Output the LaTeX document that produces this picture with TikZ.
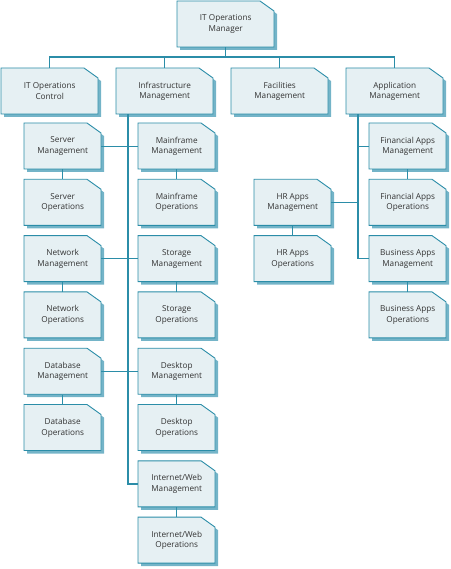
\documentclass[tikz,border=0pt]{standalone}
\usepackage{fontspec}
\setmainfont{Open Sans}
\definecolor{edgec}{HTML}{2B8DA8}
\definecolor{fillc}{HTML}{E6F0F3}
\definecolor{shadc}{HTML}{74B4C8}
\definecolor{textc}{HTML}{333333}
\tikzset{
  boxline/.style={draw=edgec, fill=fillc, line width=0.9pt},
  boxshadow/.style={fill=shadc},
  txt/.style={inner sep=0pt, align=center, text=textc, font=\fontsize{8.2}{10.5}\selectfont},
  conn/.style={draw=edgec, line width=1.1pt},
}
\newcommand\obox[5]{%
  \fill[boxshadow] ({#2+3},{#3+3}) -- ({#2+#4-14+3},{#3+3}) -- ({#2+#4+3},{#3+10+3}) -- ({#2+#4+3},{#3+46+3}) -- ({#2+3},{#3+46+3}) -- cycle;
  \path[boxline] (#2,#3) -- ({#2+#4-14},#3) -- ({#2+#4},{#3+10}) -- ({#2+#4},{#3+46}) -- (#2,{#3+46}) -- cycle;
  \node[txt, minimum width=#4pt, minimum height=46pt, anchor=north west] (#1) at (#2,#3) {#5};
}
\begin{document}
\begin{tikzpicture}[x=1pt,y=-1pt]
\useasboundingbox (0,0) rectangle (450,569);
\obox{mgr}{177}{1}{97}{IT Operations\\Manager}
\obox{ctl}{1}{68}{97}{IT Operations\\Control}
\obox{inf}{116}{68}{97}{Infrastructure\\Management}
\obox{fac}{231}{68}{97}{Facilities\\Management}
\obox{app}{346}{68}{97}{Application\\Management}
% left column
\obox{sm}{24}{123}{77}{Server\\Management}
\obox{so}{24}{179.3}{77}{Server\\Operations}
\obox{nm}{24}{235.6}{77}{Network\\Management}
\obox{no}{24}{291.9}{77}{Network\\Operations}
\obox{dm}{24}{348.2}{77}{Database\\Management}
\obox{do}{24}{404.5}{77}{Database\\Operations}
% middle column
\obox{mm}{138}{123}{77}{Mainframe\\Management}
\obox{mo}{138}{179.3}{77}{Mainframe\\Operations}
\obox{stm}{138}{235.6}{77}{Storage\\Management}
\obox{sto}{138}{291.9}{77}{Storage\\Operations}
\obox{dkm}{138}{348.2}{77}{Desktop\\Management}
\obox{dko}{138}{404.5}{77}{Desktop\\Operations}
\obox{iwm}{138}{460.8}{77}{Internet/Web\\Management}
\obox{iwo}{138}{517.1}{77}{Internet/Web\\Operations}
% application side
\obox{hrm}{254}{179.3}{77}{HR Apps\\Management}
\obox{hro}{254}{235.6}{77}{HR Apps\\Operations}
\obox{fam}{369}{123}{77}{Financial Apps\\Management}
\obox{fao}{369}{179.3}{77}{Financial Apps\\Operations}
\obox{bam}{369}{235.6}{77}{Business Apps\\Management}
\obox{bao}{369}{291.9}{77}{Business Apps\\Operations}
% connectors
\coordinate (bus) at (0,57);
\coordinate (inftrunk) at ([xshift=12pt]inf.south west);
\coordinate (apptrunk) at ([xshift=12pt]app.south west);
\draw[conn] (mgr.south) -- (mgr.south |- bus);
\draw[conn] (ctl.north) -- (ctl.north |- bus) -- (app.north |- bus) -- (app.north);
\draw[conn] (inf.north) -- (inf.north |- bus);
\draw[conn] (fac.north) -- (fac.north |- bus);
\draw[conn] (inftrunk) |- (iwm.west);
\draw[conn] (apptrunk) |- (bam.west);
\draw[conn] (sm.east) -- (mm.west);
\draw[conn] (nm.east) -- (stm.west);
\draw[conn] (dm.east) -- (dkm.west);
\draw[conn] (fam.west) -- (fam.west -| apptrunk);
\draw[conn] (hrm.east) -- (hrm.east -| apptrunk);
\draw[conn] (sm.south) -- (so.north);
\draw[conn] (nm.south) -- (no.north);
\draw[conn] (dm.south) -- (do.north);
\draw[conn] (mm.south) -- (mo.north);
\draw[conn] (stm.south) -- (sto.north);
\draw[conn] (dkm.south) -- (dko.north);
\draw[conn] (iwm.south) -- (iwo.north);
\draw[conn] (hrm.south) -- (hro.north);
\draw[conn] (fam.south) -- (fao.north);
\draw[conn] (bam.south) -- (bao.north);
\end{tikzpicture}
\end{document}
